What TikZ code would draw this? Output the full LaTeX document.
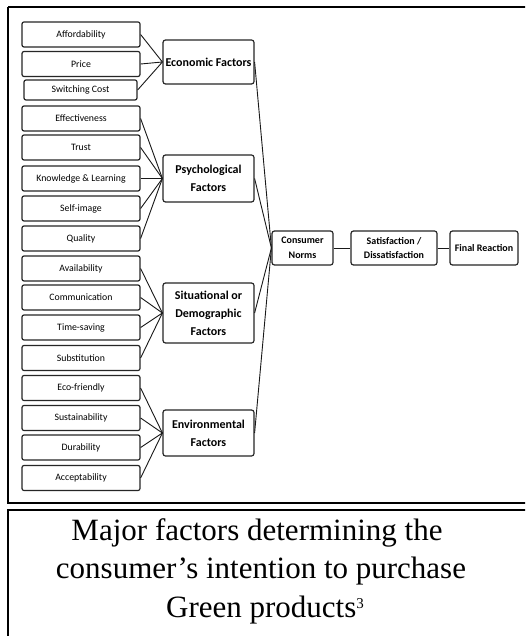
\documentclass[tikz,border=0pt]{standalone}
\usepackage{fontspec}
\setmainfont{Carlito}
\newfontfamily\capfont{Liberation Serif}
\begin{document}
\begin{tikzpicture}[x=1pt,y=-1pt,
  leaf/.style={draw=black!85,line width=1.2pt,rounded corners=2pt,minimum width=118pt,minimum height=25pt,inner sep=0pt,font=\fontsize{9.8}{11}\selectfont},
  factor/.style={draw=black!85,line width=1.2pt,rounded corners=2.5pt,minimum width=91pt,inner sep=0pt,align=center,font=\bfseries\fontsize{12}{18}\selectfont},
  flowbox/.style={draw=black!85,line width=1.2pt,rounded corners=2.5pt,minimum height=34pt,inner sep=0pt,align=center,font=\bfseries\fontsize{10}{14.5}\selectfont},
  link/.style={line width=0.9pt,black!90},
  captxt/.style={anchor=base,inner sep=0pt,font=\capfont\fontsize{31}{36}\selectfont}]
\clip (0,0) rectangle (525,636);
\fill[white] (0,0) rectangle (525,636);
% frames
\draw[line width=2.6pt] (8,7) -- (530,7);
\draw[line width=2.5pt] (8,7) -- (8,503) -- (530,503);
\draw[line width=2.5pt] (8,640) -- (8,510) -- (530,510);
% leaf boxes
\node[leaf] (aff) at (81,34.5) {Affordability};
\node[leaf] (pri) at (81,64) {Price};
\node[leaf,minimum width=113pt,minimum height=20pt] (swi) at (80.5,90) {Switching Cost};
\node[leaf] (eff) at (81,118.5) {Effectiveness};
\node[leaf] (tru) at (81,147.5) {Trust};
\node[leaf] (kno) at (81,178.5) {Knowledge \& Learning};
\node[leaf] (sel) at (81,208.5) {Self-image};
\node[leaf] (qua) at (81,238.5) {Quality};
\node[leaf] (ava) at (81,268.5) {Availability};
\node[leaf] (com) at (81,297.5) {Communication};
\node[leaf] (tim) at (81,327.5) {Time-saving};
\node[leaf] (sub) at (81,358) {Substitution};
\node[leaf] (eco) at (81,388) {Eco-friendly};
\node[leaf] (sus) at (81,418) {Sustainability};
\node[leaf] (dur) at (81,447.5) {Durability};
\node[leaf] (acc) at (81,478) {Acceptability};
% factor boxes
\node[factor,minimum height=44pt] (econ) at (208.5,62) {Economic Factors};
\node[factor,minimum height=47pt] (psy) at (208.5,178.5) {Psychological\\Factors};
\node[factor,minimum height=60pt] (sit) at (208.5,313) {Situational or\\Demographic\\Factors};
\node[factor,minimum height=46pt] (env) at (208.5,433) {Environmental\\Factors};
% flow boxes
\node[flowbox,minimum width=61pt] (norms) at (302.5,248) {Consumer\\Norms};
\node[flowbox,minimum width=86pt] (sat) at (394,248) {Satisfaction /\\Dissatisfaction};
\node[flowbox,minimum width=68pt] (fin) at (484,248) {Final Reaction};
% connectors
\foreach \a in {aff,pri,swi} \draw[link] (\a.east) -- (econ.west);
\foreach \a in {eff,tru,kno,sel,qua} \draw[link] (\a.east) -- (psy.west);
\foreach \a in {ava,com,tim,sub} \draw[link] (\a.east) -- (sit.west);
\foreach \a in {eco,sus,dur,acc} \draw[link] (\a.east) -- (env.west);
\foreach \a in {econ,psy,sit,env} \draw[link] (\a.east) -- (norms.west);
\draw[link] (norms.east) -- (sat.west);
\draw[link] (sat.east) -- (fin.west);
% caption
\node[captxt] (cap1) at (257,540) {Major factors determining the};
\node[captxt] (cap2) at (261,578) {consumer’s intention to purchase};
\node[captxt] (cap3) at (265,617) {Green products\raisebox{9pt}{\fontsize{15}{15}\selectfont 3}};
\end{tikzpicture}
\end{document}
